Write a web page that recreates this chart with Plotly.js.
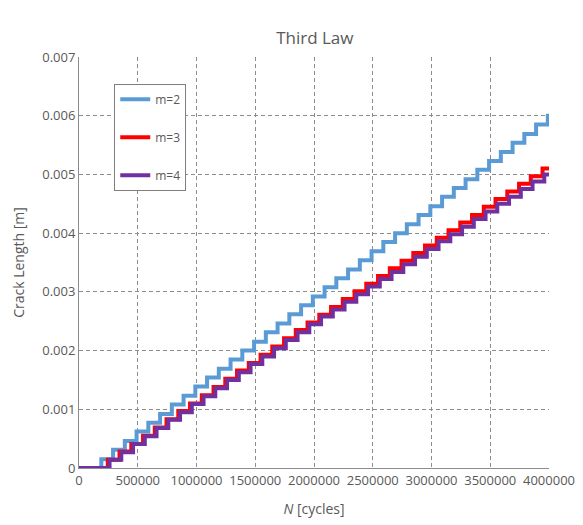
<!DOCTYPE html>
<html>
<head>
<meta charset="utf-8">
<script src="https://cdn.plot.ly/plotly-3.0.1.min.js"></script>
<style>html,body{margin:0;padding:0;background:#fff;}#chart{width:583px;height:525px;}</style>
</head>
<body>
<div id="chart"></div>
<script>
// Series names
var seriesNames = ["m=2", "m=3", "m=4"];

// m=2 : cycle at each step and crack length [m]
var n_m2 = [0, 190000, 290000, 390000, 490000, 590000, 690000, 790000, 890000, 990000,
  1090000, 1190000, 1290000, 1390000, 1490000, 1590000, 1690000, 1790000, 1890000, 1990000,
  2090000, 2190000, 2290000, 2390000, 2490000, 2590000, 2690000, 2790000, 2890000, 2990000,
  3090000, 3190000, 3290000, 3390000, 3490000, 3590000, 3690000, 3790000, 3890000, 3990000, 4000000];
var a_m2 = [0, 0.00015, 0.00031, 0.00046, 0.00062, 0.00077, 0.00092, 0.00108, 0.00123, 0.00139,
  0.00154, 0.00169, 0.00185, 0.00200, 0.00215, 0.00231, 0.00246, 0.00262, 0.00277, 0.00292,
  0.00308, 0.00323, 0.00338, 0.00354, 0.00369, 0.00385, 0.00400, 0.00415, 0.00431, 0.00446,
  0.00462, 0.00477, 0.00492, 0.00508, 0.00523, 0.00538, 0.00554, 0.00569, 0.00585, 0.00600, 0.00600];

// m=3
var n_m3 = [0, 245000, 345000, 445000, 545000, 645000, 745000, 845000, 945000,
  1045000, 1145000, 1245000, 1345000, 1445000, 1545000, 1645000, 1745000, 1845000, 1945000,
  2045000, 2145000, 2245000, 2345000, 2445000, 2545000, 2645000, 2745000, 2845000, 2945000,
  3045000, 3145000, 3245000, 3345000, 3445000, 3545000, 3645000, 3745000, 3845000, 3945000, 4000000];
var a_m3 = [0, 0.00014, 0.00028, 0.00041, 0.00055, 0.00069, 0.00083, 0.00097, 0.00110,
  0.00124, 0.00138, 0.00152, 0.00166, 0.00179, 0.00193, 0.00207, 0.00221, 0.00235, 0.00248,
  0.00261, 0.00274, 0.00288, 0.00301, 0.00314, 0.00327, 0.00340, 0.00353, 0.00366, 0.00379,
  0.00392, 0.00405, 0.00418, 0.00431, 0.00445, 0.00458, 0.00471, 0.00484, 0.00497, 0.00510, 0.00510];

// m=4
var n_m4 = [0, 260000, 360000, 460000, 560000, 660000, 760000, 860000, 960000,
  1060000, 1160000, 1260000, 1360000, 1460000, 1560000, 1660000, 1760000, 1860000, 1960000,
  2060000, 2160000, 2260000, 2360000, 2460000, 2560000, 2660000, 2760000, 2860000, 2960000,
  3060000, 3160000, 3260000, 3360000, 3460000, 3560000, 3660000, 3760000, 3860000, 3960000, 4000000];
var a_m4 = [0, 0.00014, 0.00027, 0.00041, 0.00054, 0.00068, 0.00082, 0.00095, 0.00109,
  0.00122, 0.00136, 0.00150, 0.00163, 0.00177, 0.00190, 0.00204, 0.00218, 0.00231, 0.00245,
  0.00258, 0.00270, 0.00283, 0.00296, 0.00309, 0.00322, 0.00334, 0.00347, 0.00360, 0.00373,
  0.00386, 0.00398, 0.00411, 0.00424, 0.00437, 0.00450, 0.00462, 0.00475, 0.00488, 0.00500, 0.00500];

// Axis ticks
var xTicks = [0, 500000, 1000000, 1500000, 2000000, 2500000, 3000000, 3500000, 4000000];
var yTicks = [0, 0.001, 0.002, 0.003, 0.004, 0.005, 0.006, 0.007];

var colors = ["#5B9BD5", "#FF0000", "#7030A0"];
var xs = [n_m2, n_m3, n_m4];
var ys = [a_m2, a_m3, a_m4];

var traces = seriesNames.map(function (name, i) {
  return {
    type: "scatter",
    mode: "lines",
    name: name,
    legendgroup: "g" + i,
    x: xs[i],
    y: ys[i],
    line: { color: colors[i], width: 4, shape: "hv" }
  };
});

var gray = "#595959";
var fontFam = "'Open Sans', 'Liberation Sans', sans-serif";

var layout = {
  width: 583,
  height: 525,
  margin: { l: 79, r: 34, t: 57, b: 57 },
  paper_bgcolor: "#fff",
  plot_bgcolor: "#fff",
  font: { family: fontFam, color: gray, size: 13 },
  title: {
    text: "Third Law",
    font: { family: fontFam, size: 17, color: gray },
    x: 0.54, xanchor: "center", y: 0.927, yanchor: "middle"
  },
  showlegend: true,
  legend: {
    x: 0.075, xanchor: "left", y: 0.935, yanchor: "top",
    bgcolor: "#fff", bordercolor: "#7f7f7f", borderwidth: 1,
    font: { family: fontFam, size: 12, color: gray },
    tracegroupgap: 19,
    traceorder: "grouped",
    itemwidth: 30
  },
  xaxis: {
    range: [0, 4000000],
    tickvals: xTicks,
    ticktext: xTicks.map(function (v) { return String(v); }),
    showgrid: true, gridcolor: "#8c8c8c", griddash: "4px,3px", gridwidth: 1,
    showline: true, linecolor: "#8c8c8c", linewidth: 1,
    zeroline: false, ticks: "",
    tickfont: { family: fontFam, size: 13, color: gray },
    title: { text: "<i>N</i> [cycles]", font: { family: fontFam, size: 14, color: gray }, standoff: 16 }
  },
  yaxis: {
    range: [0, 0.007],
    tickvals: yTicks,
    ticktext: yTicks.map(function (v) { return v === 0 ? "0" : v.toFixed(3); }),
    showgrid: true, gridcolor: "#8c8c8c", griddash: "4px,3px", gridwidth: 1,
    showline: true, linecolor: "#8c8c8c", linewidth: 1,
    zeroline: false, ticks: "",
    tickfont: { family: fontFam, size: 13, color: gray },
    title: { text: "Crack Length [m]", font: { family: fontFam, size: 14, color: gray }, standoff: 14 }
  }
};

Plotly.newPlot("chart", traces, layout, { displayModeBar: false, staticPlot: true });
</script>
</body>
</html>
